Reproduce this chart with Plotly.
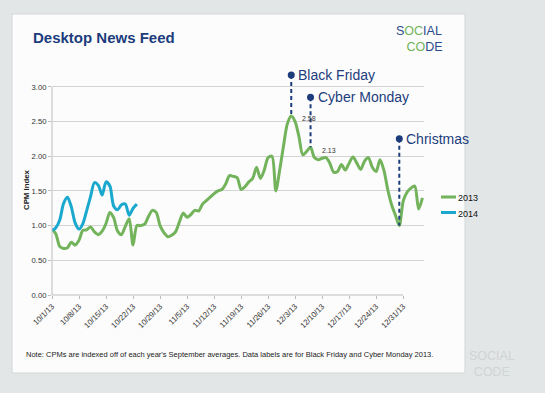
import pandas as pd
import plotly.graph_objects as go

# ---------------- data ----------------
start_date = "2013-10-01"
series_names = ["2013", "2014"]
values_2013 = [
    0.95, 0.88, 0.70, 0.67, 0.68, 0.76, 0.72, 0.79, 0.93, 0.94,
    0.98, 0.91, 0.87, 0.92, 1.03, 1.19, 1.11, 0.92, 0.87, 0.99,
    1.10, 0.72, 1.00, 1.00, 1.02, 1.13, 1.22, 1.19, 1.00, 0.90,
    0.84, 0.86, 0.91, 1.05, 1.18, 1.12, 1.16, 1.22, 1.21, 1.31,
    1.36, 1.41, 1.46, 1.50, 1.52, 1.60, 1.72, 1.71, 1.69, 1.52,
    1.56, 1.63, 1.68, 1.84, 1.68, 1.80, 1.98, 2.00, 1.50, 1.80,
    2.15, 2.47, 2.58, 2.50, 2.28, 2.02, 2.07, 2.13, 1.98, 1.95,
    1.97, 1.98, 1.90, 1.77, 1.78, 1.88, 1.80, 1.90, 1.99, 1.90,
    1.81, 1.93, 1.98, 1.84, 1.78, 1.95, 1.80, 1.52, 1.30, 1.15,
    1.00, 1.35, 1.48, 1.54, 1.57, 1.24, 1.40,
]
values_2014 = [
    0.93, 0.97, 1.08, 1.32, 1.41, 1.27, 1.04, 0.95, 1.03, 1.22,
    1.42, 1.62, 1.58, 1.44, 1.63, 1.57, 1.28, 1.23, 1.30, 1.31,
    1.15, 1.25, 1.31,
]
tick_labels = ["10/1/13", "10/8/13", "10/15/13", "10/22/13", "10/29/13",
               "11/5/13", "11/12/13", "11/19/13", "11/26/13", "12/3/13",
               "12/10/13", "12/17/13", "12/24/13", "12/31/13"]
y_ticks = [0.0, 0.5, 1.0, 1.5, 2.0, 2.5, 3.0]
event_names = ["Black Friday", "Cyber Monday", "Christmas"]
event_index = [62, 67, 90]
event_marker_y = [3.17, 2.85, 2.25]
data_label_index = [62, 67]

title_text = "Desktop News Feed"
y_title = "CPM Index"
note_text = ("Note: CPMs are indexed off of each year's September averages. "
             "Data labels are for Black Friday and Cyber Monday 2013.")

# ---------------- style ----------------
GREEN = "#72B35B"
BLUE = "#1AA8CF"
NAVY = "#1C3C7C"
GRID = "#d4d4d4"
AXIS = "#bdbdbd"
FONT = "Arial, 'Liberation Sans', sans-serif"

W, H = 545, 393
L, R, T, B = 52, 121, 66, 98
PW, PH = W - L - R, H - T - B


def px_x(px):
    return (px - L) / PW


def px_y(py):
    return (H - B - py) / PH


dates = pd.date_range(start_date, periods=len(values_2013), freq="D")
dates_2014 = dates[:len(values_2014)]
tick_dates = pd.to_datetime(tick_labels, format="%m/%d/%y")

fig = go.Figure()

fig.add_trace(go.Scatter(x=dates, y=values_2013, mode="lines", name=series_names[0],
                         line=dict(color=GREEN, width=3, shape="spline", smoothing=0.8),
                         showlegend=False))
fig.add_trace(go.Scatter(x=dates_2014, y=values_2014, mode="lines", name=series_names[1],
                         line=dict(color=BLUE, width=3, shape="spline", smoothing=0.8),
                         showlegend=False))

annotations = []
for name, idx, my in zip(event_names, event_index, event_marker_y):
    d = dates[idx]
    fig.add_trace(go.Scatter(x=[d, d], y=[my, values_2013[idx]], mode="lines",
                             line=dict(color=NAVY, width=2, dash="4px,3px"),
                             showlegend=False, hoverinfo="skip"))
    fig.add_trace(go.Scatter(x=[d], y=[my], mode="markers",
                             marker=dict(color=NAVY, size=7), cliponaxis=False,
                             showlegend=False, hoverinfo="skip"))
    annotations.append(dict(x=d, y=my, xref="x", yref="y", text=name, showarrow=False,
                            xanchor="left", yanchor="middle", xshift=5,
                            font=dict(family=FONT, size=14, color=NAVY)))

for idx in data_label_index:
    annotations.append(dict(x=dates[idx], y=values_2013[idx], xref="x", yref="y",
                            text=f"{values_2013[idx]:.2f}", showarrow=False,
                            xanchor="left", yanchor="middle", xshift=9, yshift=-3,
                            font=dict(family=FONT, size=7, color="#333333")))

shapes = [
    # card
    dict(type="rect", xref="paper", yref="paper", x0=px_x(12), x1=px_x(465),
         y0=px_y(373), y1=px_y(14), fillcolor="#fcfcfc",
         line=dict(color="#d3d7d7", width=1), layer="below"),
    # x axis line
    dict(type="line", xref="x", yref="paper", x0=dates[0], x1=tick_dates[-1],
         y0=0, y1=0, line=dict(color=AXIS, width=1)),
    # y axis line
    dict(type="line", xref="paper", yref="y", x0=0, x1=0, y0=y_ticks[0], y1=y_ticks[-1],
         line=dict(color=AXIS, width=1)),
]

# manual legend
for i, (nm, col) in enumerate(zip(series_names, [GREEN, BLUE])):
    ypx = 197 + i * 15.5
    shapes.append(dict(type="line", xref="paper", yref="paper", x0=px_x(441), x1=px_x(456),
                       y0=px_y(ypx), y1=px_y(ypx), line=dict(color=col, width=3)))
    annotations.append(dict(x=px_x(455.5), y=px_y(ypx + 1), xref="paper", yref="paper",
                            text=nm, showarrow=False, xanchor="left", yanchor="middle",
                            font=dict(family=FONT, size=9, color="#111111")))

# y axis title
annotations.append(dict(x=px_x(26), y=px_y(190), xref="paper", yref="paper", text=f"<b>{y_title}</b>",
                        textangle=-90, showarrow=False, xanchor="center", yanchor="middle",
                        font=dict(family=FONT, size=7.8, color="#222222")))
# note
annotations.append(dict(x=px_x(24), y=px_y(354), xref="paper", yref="paper", text=note_text,
                        showarrow=False, xanchor="left", yanchor="middle",
                        font=dict(family=FONT, size=7.5, color="#222222")))
# logo top right
LOGO_NAVY = "#2A4A8A"
annotations.append(dict(x=px_x(394), y=px_y(39), xref="paper", yref="paper",
                        text=(f"<span style='color:{LOGO_NAVY}'>S</span>"
                              f"<span style='color:{GREEN}'>OC</span>"
                              f"<span style='color:{LOGO_NAVY}'>IAL</span><br>"
                              f"&nbsp;&nbsp;&nbsp;<span style='color:{GREEN}'>CO</span>"
                              f"<span style='color:{LOGO_NAVY}'>DE</span>"),
                        showarrow=False, xanchor="left", yanchor="middle", align="left",
                        font=dict(family=FONT, size=12.5)))
# faded logo bottom right
annotations.append(dict(x=px_x(492), y=px_y(364), xref="paper", yref="paper",
                        text="SOCIAL<br>CODE",
                        showarrow=False, xanchor="center", yanchor="middle", align="center",
                        font=dict(family=FONT, size=12.5, color="#d0d4d4")))

fig.update_layout(
    width=W, height=H,
    margin=dict(l=L, r=R, t=T, b=B, pad=0),
    paper_bgcolor="#e3e6e6",
    plot_bgcolor="rgba(0,0,0,0)",
    font=dict(family=FONT),
    title=dict(text=f"<b>{title_text}</b>", x=33 / W, xanchor="left", xref="container",
               y=1 - 38 / H, yanchor="middle", yref="container",
               font=dict(family=FONT, size=15, color=NAVY)),
    xaxis=dict(type="date",
               range=[dates[0], dates[0] + pd.Timedelta(days=96.4)],
               tickmode="array", tickvals=tick_dates, ticktext=tick_labels,
               tickangle=-45, ticks="outside", ticklen=3, tickcolor=AXIS,
               tickfont=dict(family=FONT, size=7.8, color="#333333"),
               showgrid=False, showline=False, zeroline=False),
    yaxis=dict(range=[0, 3.3], tickmode="array", tickvals=y_ticks,
               ticktext=[f"{v:.2f}" for v in y_ticks],
               ticks="outside", ticklen=3, tickcolor=AXIS,
               tickfont=dict(family=FONT, size=7.7, color="#333333"),
               showgrid=False, showline=False, zeroline=False,
               minor=dict(tickmode="array", tickvals=y_ticks[1:], showgrid=True,
                          gridcolor=GRID, gridwidth=1, ticks="")),
    shapes=shapes,
    annotations=annotations,
    showlegend=False,
)

fig.write_html("out.html", config={"displayModeBar": False},
               post_script="document.body.style.margin='0';")
